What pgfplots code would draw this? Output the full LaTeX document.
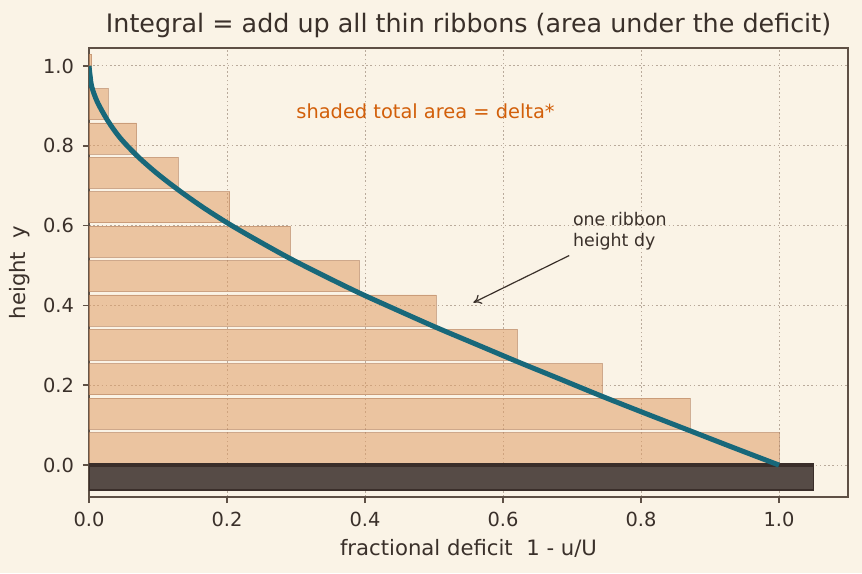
\documentclass[border=0pt]{standalone}
\usepackage{pgfplots}
\pgfplotsset{compat=1.18}
\usepackage{fontspec}
\setmainfont{DejaVu Sans}
\usetikzlibrary{arrows.meta}
\definecolor{bg}{RGB}{250,243,230}
\definecolor{ink}{RGB}{58,48,42}
\definecolor{spine}{RGB}{94,80,69}
\definecolor{gridc}{RGB}{185,170,155}
\definecolor{ribbon}{RGB}{224,158,103}
\definecolor{ribbonedge}{RGB}{180,130,95}
\definecolor{curve}{RGB}{24,104,122}
\definecolor{wallfill}{RGB}{86,75,70}
\definecolor{walledge}{RGB}{58,46,42}
\definecolor{note}{RGB}{210,95,10}
\begin{document}
\begin{tikzpicture}
\fill[bg] (-44.5pt,-38pt) rectangle (386.5pt,248.5pt);
\path[use as bounding box] (-44.5pt,-38pt) rectangle (386.5pt,248.5pt);
\begin{axis}[
  at={(0,0)}, anchor=south west,
  scale only axis, width=379.5pt, height=224.5pt,
  xmin=0, xmax=1.1, ymin=-0.08, ymax=1.045,
  xtick={0,0.2,0.4,0.6,0.8,1.0}, ytick={0,0.2,0.4,0.6,0.8,1.0},
  xticklabels={0.0,0.2,0.4,0.6,0.8,1.0},
  yticklabels={0.0,0.2,0.4,0.6,0.8,1.0},
  grid=major,
  grid style={gridc, line width=0.5pt, dash pattern=on 0.8pt off 1.3pt},
  axis line style={spine, line width=0.75pt},
  tick style={spine, line width=0.75pt},
  tick align=outside, tick pos=left, major tick length=3pt,
  ticklabel style={font=\fontsize{9.7}{11}\selectfont, text=ink},
  xticklabel style={yshift=-1pt},
  yticklabel style={xshift=-1pt},
  title={Integral = add up all thin ribbons (area under the deficit)},
  title style={font=\fontsize{12.7}{15}\selectfont, text=ink,
    at={(axis description cs:0.5,1.0067)}, anchor=base},
  xlabel={fractional deficit\ \ 1 - u/U},
  ylabel={height\ \ y},
  xlabel style={font=\fontsize{10.6}{12}\selectfont, text=ink,
    at={(axis description cs:0.5,-0.1314)}, anchor=base},
  ylabel style={font=\fontsize{10.6}{12}\selectfont, text=ink,
    at={(axis description cs:-0.0843,0.5)}, anchor=base},
]
% ribbons (bar length, bar centre)
\addplot[xbar, bar width=0.078, bar shift=0pt, fill=ribbon, fill opacity=0.55,
  draw=ribbonedge, draw opacity=0.6, line width=0.4pt] coordinates {
  (1.000,0.0425) (0.871,0.1287) (0.744,0.2149) (0.621,0.3011)
  (0.503,0.3873) (0.392,0.4735) (0.292,0.5597) (0.204,0.6459)
  (0.129,0.7321) (0.069,0.8183) (0.0275,0.9045) (0.004,0.9907)
};
% wall
\addplot[fill=wallfill, draw=walledge, line width=0.6pt] coordinates {
  (0,-0.0625) (1.05,-0.0625) (1.05,0) (0,0)} -- cycle;
\addplot[walledge, line width=1.6pt] coordinates {(0,0) (1.05,0)};
% deficit curve
\addplot[curve, line width=2.5pt, smooth] coordinates {
  (0,1.0) (0.002,0.97) (0.004,0.948) (0.012,0.91) (0.0275,0.862)
  (0.045,0.82) (0.069,0.776) (0.097,0.733) (0.129,0.69) (0.165,0.646)
  (0.204,0.603) (0.247,0.56) (0.292,0.517) (0.341,0.474) (0.392,0.431)
  (0.447,0.388) (0.503,0.345) (0.562,0.302) (0.621,0.259) (0.682,0.216)
  (0.744,0.172) (0.807,0.129) (0.871,0.086) (0.935,0.043) (1.0,0.0)
};
\node[anchor=base west, text=note, font=\fontsize{9.7}{11}\selectfont, inner sep=0pt]
  at (axis cs:0.3,0.8675) {shaded total area = delta*};
\node[anchor=base west, text=ink, font=\fontsize{8.7}{10}\selectfont, inner sep=0pt]
  at (axis cs:0.7009,0.600) {one ribbon};
\node[anchor=base west, text=ink, font=\fontsize{8.7}{10}\selectfont, inner sep=0pt]
  at (axis cs:0.7009,0.5483) {height dy};
\draw[ink, line width=0.6pt, -{To[length=4pt,width=5pt]}]
  (axis cs:0.696,0.525) -- (axis cs:0.557,0.407);
\end{axis}
\end{tikzpicture}
\end{document}
